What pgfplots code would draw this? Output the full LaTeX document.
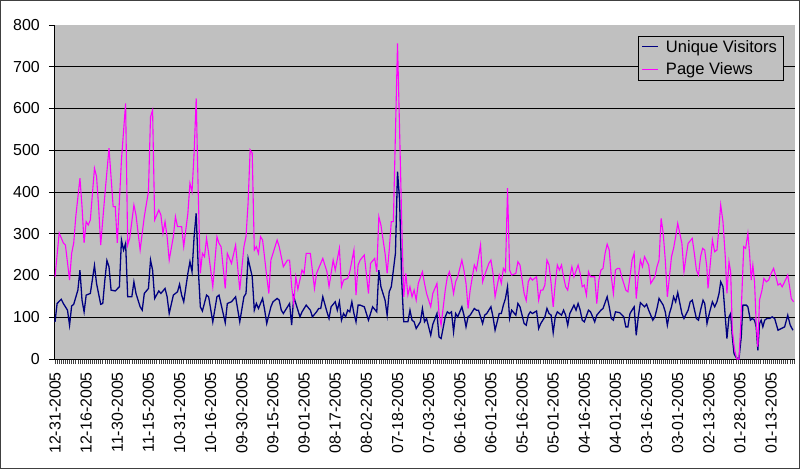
\documentclass[border=0pt]{standalone}
\usepackage{fontspec}
\setmainfont{Liberation Sans}
\usepackage{pgfplots}
\pgfplotsset{compat=1.18}
\definecolor{plotgray}{HTML}{C0C0C0}
\definecolor{uvblue}{HTML}{000080}
\definecolor{pvmag}{HTML}{FF00FF}
\definecolor{framegray}{HTML}{404040}
\begin{document}
\begin{tikzpicture}
\useasboundingbox (-54bp,-110bp) rectangle (746bp,359bp);
\draw[framegray, line width=1.5bp] (-53.25bp,-109.25bp) rectangle (745.25bp,358.25bp);
\begin{axis}[
  scale only axis,
  width=741bp, height=334bp,
  xmin=-0.5, xmax=356.5,
  ymin=0, ymax=800,
  axis x line*=bottom, axis y line*=left,
  axis line style={black, line width=0.9bp, -},
  axis background/.style={fill=plotgray},
  ytick={0,100,...,700},
  extra y ticks={800},
  extra y tick style={grid=none},
  ymajorgrids,
  major grid style={black, line width=0.8bp},
  xtick={0,15,...,345},
  minor xtick={0,1,...,356},
  xticklabels={12-31-2005,12-16-2005,11-30-2005,11-15-2005,10-31-2005,10-16-2005,09-30-2005,09-15-2005,09-01-2005,08-17-2005,08-02-2005,07-18-2005,07-03-2005,06-16-2005,06-01-2005,05-16-2005,05-01-2005,04-16-2005,04-01-2005,03-16-2005,03-01-2005,02-13-2005,01-28-2005,01-13-2005},
  tick align=outside,
  major tick length=5bp, minor tick length=5bp,
  x tick style={black!75, line width=0.6bp},
  y tick style={black, line width=0.8bp},
  xticklabel style={yshift=-8bp, rotate=90, anchor=east, font=\fontsize{16}{19}\selectfont, inner sep=0bp},
  yticklabel style={font=\fontsize{16}{19}\selectfont, inner sep=0bp, xshift=-9bp},
  /pgf/number format/assume math mode=true,
  legend style={at={(rel axis cs:0.9842,0.968)}, anchor=north east, fill=plotgray, draw=black, line width=0.8bp, font=\fontsize{16.6}{19}\selectfont, inner xsep=3bp, inner ysep=1bp, row sep=3bp, column sep=4bp, nodes={inner sep=3bp}},
  legend cell align=left,
  legend image code/.code={\draw[#1, line width=1.2bp] (0bp,0bp) -- (16bp,0bp);},
  clip=true,
]
\addplot[uvblue, line width=1.3bp] coordinates {
(0,89) (1,133) (3,143) (4,133) (6,117) (7,81) (8,127) (9,131) (11,165) (12,213) (13,141) (14,113) (15,153) (17,157) (19,224) (20,181) (22,131) (23,133) (24,189) (25,236) (26,221) (27,165) (29,163) (31,173) (32,285) (33,261) (34,277) (35,149) (37,149) (38,185) (39,157) (41,125) (42,117) (43,157) (45,169) (46,237) (47,213) (48,145) (50,163) (51,157) (53,169) (54,149) (55,109) (57,153) (59,161) (60,179) (61,153) (62,137) (64,205) (65,233) (66,209) (67,293) (68,349) (69,217) (70,125) (71,115) (73,153) (74,149) (76,89) (78,149) (79,153) (82,87) (83,133) (85,137) (87,149) (89,89) (91,149) (92,157) (93,241) (95,197) (96,117) (97,133) (98,121) (99,133) (100,145) (101,117) (102,85) (104,125) (105,137) (107,145) (108,141) (109,117) (110,109) (112,125) (113,133) (114,81) (115,149) (117,117) (118,101) (119,113) (121,129) (123,117) (124,101) (126,113) (127,121) (128,121) (129,149) (131,113) (132,97) (133,125) (135,137) (136,117) (137,137) (138,93) (139,109) (140,101) (141,117) (142,113) (143,137) (144,109) (145,89) (146,129) (147,129) (149,125) (151,93) (152,109) (153,125) (155,113) (156,213) (157,173) (159,141) (160,105) (161,161) (162,173) (164,253) (165,449) (166,381) (167,189) (168,89) (170,89) (171,117) (172,93) (173,89) (174,73) (176,89) (177,121) (178,89) (179,97) (181,57) (182,83) (184,109) (185,53) (186,49) (188,101) (189,113) (190,109) (191,113) (192,65) (193,109) (194,101) (196,125) (197,105) (198,77) (199,101) (200,105) (202,121) (203,117) (204,117) (206,85) (207,105) (208,109) (210,125) (211,101) (212,69) (214,109) (215,109) (216,129) (217,145) (218,173) (219,97) (220,117) (222,105) (223,133) (224,125) (226,85) (227,81) (228,105) (229,113) (230,109) (232,115) (233,73) (234,85) (235,93) (236,101) (237,121) (238,109) (239,105) (240,63) (241,101) (242,113) (244,105) (245,117) (246,105) (247,81) (248,109) (250,129) (251,117) (252,133) (253,117) (254,93) (255,89) (257,117) (258,113) (259,101) (260,89) (261,105) (263,117) (264,121) (266,149) (267,125) (268,97) (269,93) (270,113) (272,111) (274,101) (275,77) (276,77) (277,109) (279,125) (280,57) (281,101) (282,135) (284,125) (285,131) (286,117) (288,93) (289,101) (290,121) (291,145) (293,129) (294,113) (295,81) (296,109) (297,125) (298,149) (299,137) (300,159) (302,109) (303,97) (305,117) (306,137) (307,141) (309,97) (310,93) (311,117) (312.2,141) (313,133) (314.1,85) (315.4,113) (316.7,137) (317.8,125) (318.9,137) (319.9,157) (320.7,185) (321.8,173) (322.9,101) (323.7,49) (324.7,101) (325.5,109) (326.3,53) (327.1,13) (328.2,3) (329.5,0) (330.6,53) (331.4,129) (333,129) (333.8,125) (335,93) (335.9,97) (337,93) (337.8,77) (338.6,21) (339.4,85) (340.2,93) (341,77) (341.9,93) (343,97) (344.3,97) (345.5,101) (346.7,97) (348.3,69) (349.9,73) (351.5,77) (353,105) (354.2,81) (355.5,69)
};
\addlegendentry{Unique Visitors}
\addplot[pvmag, line width=1.1bp] coordinates {
(0,197) (2,302) (4,278) (5,273) (7,189) (8,253) (9,278) (10,341) (12,433) (13,365) (14,278) (15,329) (16,321) (17,333) (19,457) (20,437) (21,365) (22,273) (24,393) (26,505) (28,365) (29,365) (30,278) (32,477) (34,612) (35,273) (36,290) (38,369) (39,345) (41,261) (43,341) (45,401) (46,580) (47,596) (48,333) (50,357) (51,345) (52,301) (53,329) (54,293) (55,237) (57,293) (58,341) (59,317) (61,317) (62,269) (64,349) (65,421) (66,401) (67,493) (68,624) (69,397) (70,205) (71,253) (72,245) (73,289) (74,253) (76,173) (78,293) (79,277) (80,269) (82,169) (83,253) (85,229) (87,273) (89,165) (91,269) (92,293) (93,373) (94,501) (95,493) (96,261) (97,269) (98,253) (99,293) (100,285) (102,197) (103,157) (104,237) (107,285) (108,269) (110,221) (112,237) (113,237) (114,173) (115,133) (116,197) (117,167) (119,213) (120,205) (121,253) (123,253) (125,169) (126,205) (128,229) (129,241) (131,209) (132,173) (134,237) (135,213) (137,265) (138,173) (139,189) (141,193) (142,209) (144,261) (145,153) (146,225) (147,237) (149,249) (151,157) (152,229) (154,241) (155,209) (156,341) (157,321) (159,253) (160,205) (161,261) (162,329) (163,329) (164,541) (165,756) (166,549) (167,333) (168,149) (169,205) (170,153) (171,173) (172,149) (173,165) (174,141) (175,181) (177,209) (178,181) (179,157) (181,125) (182,157) (183,169) (184,181) (185,109) (186,81) (188,165) (189,197) (190,209) (191,189) (192,157) (193,185) (194,197) (196,237) (197,213) (198,181) (199,121) (200,165) (202,225) (203,213) (205,273) (206,185) (207,201) (209,229) (210,237) (211,205) (212,149) (214,201) (215,181) (216,217) (217,209) (218,409) (219,213) (220,201) (222,205) (223,233) (224,225) (226,157) (227,140) (228,185) (229,195) (230,189) (232,197) (233,141) (234,165) (235,165) (236,177) (237,237) (238,225) (239,181) (240,125) (241,181) (242,225) (243,213) (244,225) (245,197) (246,173) (247,165) (248,197) (249,221) (250,197) (252,225) (253,205) (254,173) (255,177) (256,153) (257,209) (258,197) (260,197) (261,133) (262,189) (263,213) (264,217) (265,253) (266,275) (267,261) (268,197) (269,157) (270,213) (271,217) (272,217) (273,197) (275,165) (276,161) (277,197) (278,237) (279,253) (280,145) (281,197) (282,237) (283,221) (284,245) (286,225) (287,181) (289,197) (290,221) (291,237) (292,337) (293,301) (294,237) (295,149) (296,197) (297,245) (298,265) (299,293) (300,325) (302,277) (303,209) (304,245) (305,277) (307,289) (308,253) (309,213) (310,201) (311,245) (312,265) (313,261) (314,221) (314.6,169) (315.7,229) (316.7,285) (317.8,257) (318.9,261) (319.9,317) (320.7,369) (321.8,329) (322.9,245) (323.7,157) (324.7,233) (325.5,209) (326.3,69) (327.4,21) (328.5,0) (329.5,0) (330.3,77) (331.1,181) (331.8,269) (332.7,265) (333.8,301) (334.6,253) (335.4,189) (336.2,225) (337,185) (337.8,85) (338.6,29) (339.4,141) (340.6,165) (341.5,193) (342.7,185) (343.8,189) (345,205) (346.2,217) (347.1,201) (348.3,177) (349.4,181) (350.3,173) (351.5,185) (353,201) (353.9,173) (354.7,145) (355.8,137)
};
\addlegendentry{Page Views}
\end{axis}
\end{tikzpicture}
\end{document}
